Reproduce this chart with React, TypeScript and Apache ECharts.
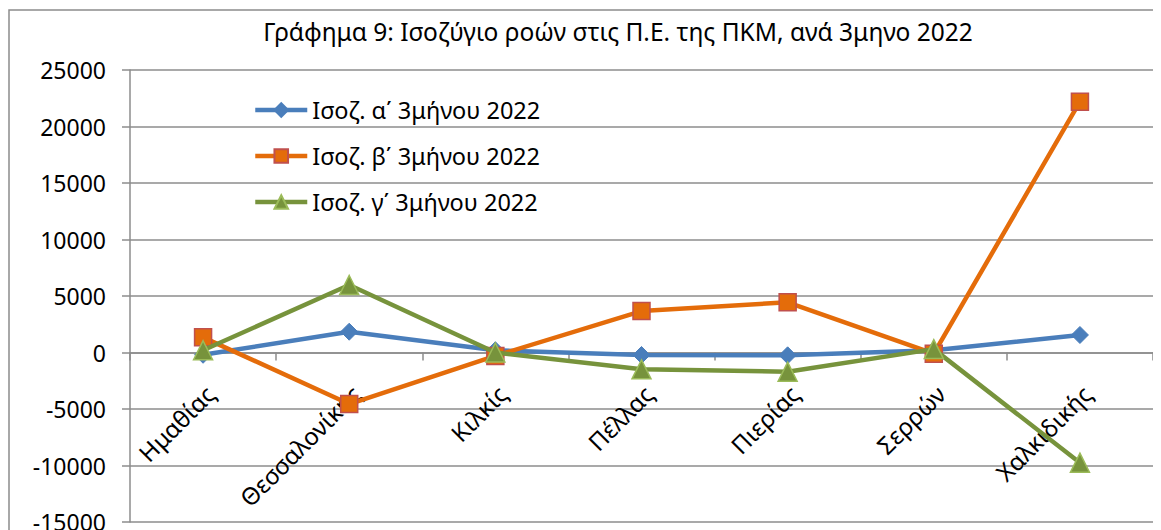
import React, { useEffect, useRef } from "react";
import * as echarts from "echarts";

const categories = ["Ημαθίας", "Θεσσαλονίκης", "Κιλκίς", "Πέλλας", "Πιερίας", "Σερρών", "Χαλκιδικής"];
const seriesA = [-200, 1840, 200, -220, -250, 200, 1550];
const seriesB = [1340, -4560, -300, 3670, 4440, -100, 22200];
const seriesC = [200, 5970, 0, -1490, -1700, 300, -9750];
const seriesNames = ["Ισοζ. α΄ 3μήνου 2022", "Ισοζ. β΄ 3μήνου 2022", "Ισοζ. γ΄ 3μήνου 2022"];
const titleText = "Γράφημα 9: Ισοζύγιο ροών στις Π.Ε. της ΠΚΜ, ανά 3μηνο 2022";

const FONT = "'Noto Sans', 'Open Sans', sans-serif";

export default function App() {
  const ref = useRef<HTMLDivElement>(null);
  useEffect(() => {
    if (!ref.current) return;
    const chart = echarts.init(ref.current, undefined, { renderer: "svg" });
    chart.setOption({
      animation: false,
      textStyle: { fontFamily: FONT },
      title: {
        text: titleText,
        left: 605,
        textAlign: "center",
        top: 6,
        textStyle: { fontFamily: FONT, fontSize: 24.5, fontWeight: "normal", color: "#000" },
      },
      legend: {
        orient: "vertical",
        left: 240,
        top: 85,
        itemGap: 22,
        itemWidth: 52,
        itemHeight: 17,
        textStyle: { fontFamily: FONT, fontSize: 23.5, color: "#000", lineHeight: 24 },
        data: seriesNames.map((n) => ({ name: n, lineStyle: { width: 4.5 } })),
      },
      grid: { left: 122, right: 8, top: 62, bottom: 8, containLabel: false, outerBoundsMode: "none" },
      xAxis: {
        type: "category",
        data: categories,
        boundaryGap: true,
        axisLine: { onZero: true, lineStyle: { color: "#8c8c8c", width: 1.5 } },
        axisTick: { show: true, inside: false, length: 8, alignWithLabel: false, lineStyle: { color: "#8c8c8c", width: 1.5 } },
        axisLabel: { show: false },
        splitLine: { show: false },
      },
      yAxis: {
        type: "value",
        min: -15000,
        max: 25000,
        interval: 5000,
        axisLine: { show: true, lineStyle: { color: "#8c8c8c", width: 1.5 } },
        axisTick: { show: true, length: 8, lineStyle: { color: "#8c8c8c", width: 1.5 } },
        axisLabel: { color: "#000", fontSize: 23, fontFamily: FONT, margin: 24, formatter: (v: number) => String(v) },
        splitLine: { show: true, lineStyle: { color: "#8c8c8c", width: 1.5 } },
      },
      series: [
        {
          name: seriesNames[0],
          type: "line",
          data: seriesA,
          symbol: "diamond",
          symbolSize: 17,
          lineStyle: { color: "#4a7ebb", width: 4.5 },
          itemStyle: { color: "#4a7ebb", borderColor: "#4a7ebb", borderWidth: 1 },
          z: 3,
        },
        {
          name: seriesNames[1],
          type: "line",
          data: seriesB,
          symbol: "rect",
          symbolSize: 17,
          lineStyle: { color: "#e46c0a", width: 4.5 },
          itemStyle: { color: "#e46c0a", borderColor: "#c0504d", borderWidth: 1.5 },
          z: 4,
        },
        {
          name: seriesNames[2],
          type: "line",
          data: seriesC,
          symbol: "triangle",
          symbolSize: 19,
          lineStyle: { color: "#77933c", width: 4.5 },
          itemStyle: { color: "#77933c", borderColor: "#9bbb59", borderWidth: 1.5 },
          z: 5,
        },
      ],
    });

    const labelGraphics = categories.map((c, i) => {
      const p = chart.convertToPixel({ xAxisIndex: 0, yAxisIndex: 0 }, [i, 0]) as number[];
      return {
        type: "text",
        x: p[0] + 7,
        y: p[1] + 37,
        rotation: Math.PI / 4,
        silent: true,
        style: {
          text: c,
          fontFamily: FONT,
          fontSize: 24,
          fill: "#000",
          align: "right",
          verticalAlign: "middle",
        },
      };
    });

    chart.setOption({
      graphic: [
        {
          type: "rect",
          shape: { x: 1, y: 2, width: 1300, height: 700 },
          style: { fill: "none", stroke: "#8c8c8c", lineWidth: 1.5 },
          silent: true,
        },
        ...labelGraphics,
      ],
    });
    return () => chart.dispose();
  }, []);
  return <div ref={ref} style={{ width: 1153, height: 522 }} />;
}
